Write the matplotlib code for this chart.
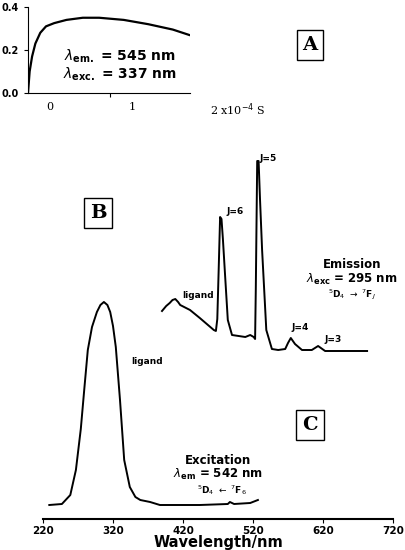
import matplotlib.pyplot as plt

# excitation spectrum (nm, arb. units)
exc_nm = [229, 247, 259, 267, 274, 279, 284, 290, 297, 302, 307, 312, 316, 320, 324, 330, 336, 344, 352, 359, 373, 387,
          444, 484, 487, 493, 516, 527]
exc_int = [14, 15, 24, 49, 90, 130, 169, 192, 207, 214, 217, 214, 207, 193, 172, 119, 59, 32, 22, 19, 17, 14,
           14, 15, 17, 15, 16, 19]

# emission spectrum (nm, arb. units, offset)
em_nm = [390, 396, 401, 405, 409, 413, 416, 430, 444, 459, 464, 467, 469, 471, 473, 475, 477, 480, 484, 490, 509, 516,
         521, 523, 524, 526, 528, 530, 533, 539, 547, 556, 566, 570, 574, 580, 590, 604, 613, 623, 683]
em_int = [208, 213, 216, 219, 220, 217, 214, 209, 201, 192, 189, 188, 200, 250, 302, 300, 280, 245, 199, 184, 182, 184,
          182, 180, 230, 358, 358, 320, 269, 189, 170, 169, 170, 176, 181, 175, 169, 169, 173, 168, 168]

# decay inset (1e-4 s, arb. units)
t_decay = [-0.27, -0.25, -0.22, -0.18, -0.12, -0.05, 0.05, 0.2, 0.4, 0.6, 0.9, 1.2, 1.5, 1.7]
i_decay = [0.0, 0.1, 0.17, 0.23, 0.28, 0.31, 0.325, 0.34, 0.35, 0.35, 0.34, 0.32, 0.295, 0.27]

W, H = 405, 550
fig = plt.figure(figsize=(W / 100, H / 100), dpi=100)

# main spectra
ax = fig.add_axes([43 / W, 31 / H, 350 / W, 369 / H])
ax.plot(exc_nm, exc_int, color='black', lw=1.4)
ax.plot(em_nm, em_int, color='black', lw=1.4)
ax.set_xlim(220, 720)
ax.set_ylim(0, 369)
ax.set_xticks(range(220, 721, 100))
ax.tick_params(axis='x', labelsize=7.5, length=3, direction='out', pad=2)
for lab in ax.get_xticklabels():
    lab.set_fontweight('bold')
ax.set_yticks([])
for s in ['top', 'right', 'left']:
    ax.spines[s].set_visible(False)
ax.spines['bottom'].set_linewidth(1.5)
ax.set_xlabel('Wavelength/nm', fontsize=10.5, fontweight='bold', labelpad=-1)

kw = dict(fontweight='bold', ha='center', va='center')
fig.text(268 / W, 1 - 158 / H, 'J=5', fontsize=6.5, **kw)
fig.text(235 / W, 1 - 212 / H, 'J=6', fontsize=6.5, **kw)
fig.text(300 / W, 1 - 328 / H, 'J=4', fontsize=6.5, **kw)
fig.text(333 / W, 1 - 340 / H, 'J=3', fontsize=6.5, **kw)
fig.text(198 / W, 1 - 295 / H, 'ligand', fontsize=6.5, **kw)
fig.text(147 / W, 1 - 361 / H, 'ligand', fontsize=6.5, **kw)
fig.text(352 / W, 1 - 265 / H, 'Emission', fontsize=8.5, **kw)
fig.text(352 / W, 1 - 279 / H, r'$\lambda_{\mathbf{exc}}$ = 295 nm', fontsize=8.5, **kw)
fig.text(352 / W, 1 - 295 / H, r'$^5$D$_4$ $\rightarrow$ $^7$F$_J$', fontsize=6.5, **kw)
fig.text(218 / W, 1 - 460 / H, 'Excitation', fontsize=8.5, **kw)
fig.text(218 / W, 1 - 474 / H, r'$\lambda_{\mathbf{em}}$ = 542 nm', fontsize=8.5, **kw)
fig.text(222 / W, 1 - 490 / H, r'$^5$D$_4$ $\leftarrow$ $^7$F$_6$', fontsize=6.5, **kw)

box = dict(boxstyle='square,pad=0.3', fc='white', ec='black', lw=1)
for lx, ly, letter in [(310, 45, 'A'), (98, 213, 'B'), (310, 425, 'C')]:
    fig.text(lx / W, 1 - ly / H, letter, fontsize=14, family='serif', bbox=box, **kw)

# decay inset
axa = fig.add_axes([28 / W, 1 - 93 / H, 162 / W, 86 / H])
axa.plot(t_decay, i_decay, color='black', lw=1.6)
axa.set_xlim(-0.27, 1.71)
axa.set_ylim(0, 0.4)
axa.set_yticks([0.0, 0.2, 0.4])
axa.set_yticklabels(['0.0', '0.2', '0.4'], fontsize=7, fontweight='bold')
axa.set_xticks([0.73])
axa.set_xticklabels([''])
axa.tick_params(length=3)
for s in ['top', 'right']:
    axa.spines[s].set_visible(False)
axa.text(0, -0.1, '0', transform=axa.get_xaxis_transform(), ha='center', va='top', family='serif', fontsize=8)
axa.text(1, -0.1, '1', transform=axa.get_xaxis_transform(), ha='center', va='top', family='serif', fontsize=8)
axa.text(1.95, -0.1, r'2 x10$^{-4}$ S', transform=axa.get_xaxis_transform(), ha='left', va='top',
         family='serif', fontsize=8, clip_on=False)
axa.text(0.85, 0.17, r'$\lambda_{\mathbf{em.}}$ = 545 nm', fontsize=10, **kw)
axa.text(0.85, 0.085, r'$\lambda_{\mathbf{exc.}}$ = 337 nm', fontsize=10, **kw)

fig.savefig('out.png', dpi=100)
